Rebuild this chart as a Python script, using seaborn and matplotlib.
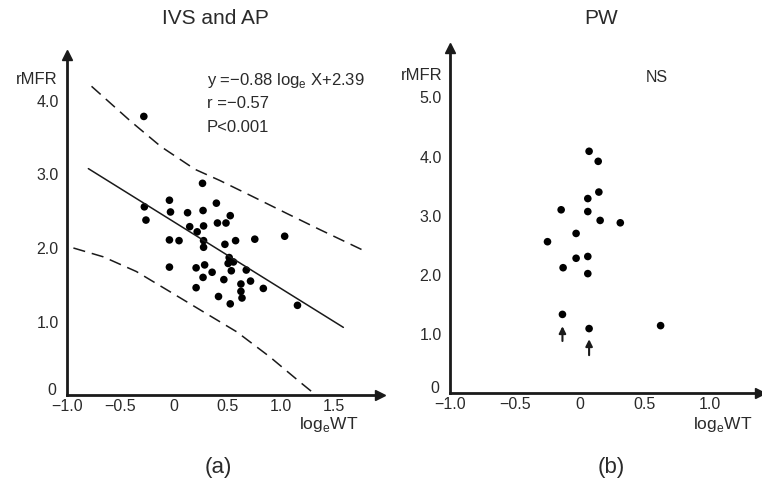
import matplotlib
matplotlib.use("Agg")
import matplotlib.pyplot as plt
import matplotlib.transforms as mtransforms
import seaborn as sns

# (a) IVS and AP: log_e WT vs rMFR
ivs_x = [-0.28, -0.275, -0.26, -0.04, -0.03, -0.04, -0.04, 0.05, 0.13, 0.15,
         0.22, 0.27, 0.275, 0.28, 0.28, 0.28, 0.29, 0.21, 0.275, 0.21,
         0.36, 0.40, 0.41, 0.49, 0.53, 0.48, 0.58, 0.52, 0.51, 0.56,
         0.54, 0.47, 0.42, 0.53, 0.63, 0.63, 0.64, 0.68, 0.72, 0.76,
         0.84, 1.04, 1.16]
ivs_y = [3.79, 2.56, 2.38, 2.65, 2.49, 2.11, 1.74, 2.10, 2.48, 2.29,
         2.22, 2.88, 2.51, 2.30, 2.10, 2.01, 1.77, 1.73, 1.60, 1.46,
         1.67, 2.61, 2.34, 2.34, 2.44, 2.05, 2.10, 1.87, 1.79, 1.81,
         1.69, 1.57, 1.34, 1.24, 1.51, 1.41, 1.32, 1.70, 1.55, 2.12,
         1.45, 2.16, 1.22]

# regression line and confidence bands
fit_x = [-0.80, 1.59]
fit_y = [3.08, 0.92]
upper_x = [-0.77, -0.40, -0.12, 0.20, 0.43, 0.74, 1.06, 1.37, 1.76]
upper_y = [4.20, 3.72, 3.38, 3.07, 2.92, 2.70, 2.47, 2.25, 1.98]
lower_x = [-0.94, -0.66, -0.35, -0.04, 0.28, 0.59, 0.90, 1.18, 1.29]
lower_y = [2.00, 1.88, 1.68, 1.41, 1.13, 0.86, 0.52, 0.18, 0.05]

# (b) PW
pw_x = [0.07, 0.14, 0.145, 0.06, -0.145, 0.06, 0.155, 0.31, -0.03,
        -0.25, 0.06, -0.03, -0.13, 0.06, -0.135, 0.07, 0.62]
pw_y = [4.09, 3.92, 3.40, 3.29, 3.10, 3.07, 2.92, 2.88, 2.70,
        2.56, 2.31, 2.28, 2.12, 2.02, 1.33, 1.09, 1.14]
arrow_x = [-0.135, 0.07]
arrow_tip = [1.13, 0.91]
arrow_base = [0.88, 0.64]

xticks_a = [-1.0, -0.5, 0, 0.5, 1.0, 1.5]
xticks_b = [-1.0, -0.5, 0, 0.5, 1.0]
yticks_a = [0, 1, 2, 3, 4]
yticks_b = [0, 1, 2, 3, 4, 5]

sns.set_style("white")
plt.rcParams["font.family"] = ["Liberation Sans", "DejaVu Sans"]
plt.rcParams["mathtext.fontset"] = "custom"
plt.rcParams["mathtext.rm"] = "Liberation Sans"

W, H = 762, 484
fig = plt.figure(figsize=(W / 100, H / 100), dpi=100)
ink = "#1a1a1a"
txt = "#2a2a2a"


def fx(px):
    return px / W


def fy(py):
    return 1 - py / H


def label(v):
    if v == 0:
        return "0"
    return f"{v:.1f}".replace("-", "\u2212")


def style_axes(ax, xt, yt):
    for s in ["top", "right"]:
        ax.spines[s].set_visible(False)
    for s in ["left", "bottom"]:
        ax.spines[s].set_linewidth(2.0)
        ax.spines[s].set_color(ink)
    ax.set_xticks(xt)
    ax.set_xticklabels([label(v) for v in xt])
    ax.set_yticks(yt)
    ax.set_yticklabels([label(v) for v in yt])
    ax.tick_params(direction="in", length=5, width=1.2, color=ink,
                   labelsize=11.5, labelcolor=txt)
    ax.tick_params(axis="x", pad=3)
    ax.tick_params(axis="y", pad=6)
    ax.set_xlabel("")
    ax.set_ylabel("")
    ax.patch.set_alpha(0)
    # the "0" on the y axis sits a little above the x axis
    zero = ax.get_yticklabels()[0]
    zero.set_transform(zero.get_transform() +
                       mtransforms.ScaledTranslation(-2 / 72, 4 / 72, fig.dpi_scale_trans))
    # arrow heads
    ax.plot(1, 0, ">", color=ink, markersize=7, transform=ax.transAxes, clip_on=False)
    ax.plot(0, 1, "^", color=ink, markersize=7, transform=ax.transAxes, clip_on=False)


# panel (a)
ax1 = fig.add_axes([fx(67), fy(395), fx(380 - 67), (395 - 55) / H])
sns.lineplot(x=fit_x, y=fit_y, ax=ax1, color=ink, linewidth=1.1)
sns.lineplot(x=upper_x, y=upper_y, ax=ax1, color=ink, linewidth=1.1,
             sort=False, estimator=None, linestyle=(0, (8, 4.5)))
sns.lineplot(x=lower_x, y=lower_y, ax=ax1, color=ink, linewidth=1.1,
             sort=False, estimator=None, linestyle=(0, (8, 4.5)))
sns.scatterplot(x=ivs_x, y=ivs_y, ax=ax1, color="black", s=30, edgecolor="none")
ax1.set_xlim(-1.0, -1.0 + (380 - 67) / 106.7)
ax1.set_ylim(0, (395 - 55) / 73.5)
style_axes(ax1, xticks_a, yticks_a)

# panel (b)
ax2 = fig.add_axes([fx(450), fy(393), fx(760 - 450), (393 - 48) / H])
sns.scatterplot(x=pw_x, y=pw_y, ax=ax2, color="black", s=30, edgecolor="none")
for xa, tip, base in zip(arrow_x, arrow_tip, arrow_base):
    ax2.annotate("", xy=(xa, tip), xytext=(xa, base),
                 arrowprops=dict(arrowstyle="-|>", color=ink, lw=1.5,
                                 mutation_scale=10, shrinkA=0, shrinkB=0))
ax2.set_xlim(-1.0, -1.0 + (760 - 450) / 130.0)
ax2.set_ylim(0, (393 - 48) / 59.1)
style_axes(ax2, xticks_b, yticks_b)

# titles and labels
fig.text(fx(215), fy(18), "IVS and AP", ha="center", va="center", fontsize=15, color=txt)
fig.text(fx(601), fy(18), "PW", ha="center", va="center", fontsize=15, color=txt)
fig.text(fx(218), fy(467), "(a)", ha="center", va="center", fontsize=16, color=txt)
fig.text(fx(611), fy(467), "(b)", ha="center", va="center", fontsize=16, color=txt)
fig.text(fx(57), fy(80), "rMFR", ha="right", va="center", fontsize=12, color=txt)
fig.text(fx(442), fy(76), "rMFR", ha="right", va="center", fontsize=12, color=txt)
fig.text(fx(358), fy(425), r"log$_\mathregular{e}$WT", ha="right", va="center", fontsize=12.5, color=txt)
fig.text(fx(752), fy(425), r"log$_\mathregular{e}$WT", ha="right", va="center", fontsize=12.5, color=txt)
fig.text(fx(657), fy(78), "NS", ha="center", va="center", fontsize=11.5, color=txt)

fig.text(fx(207), fy(80), "y =\u22120.88 log$_\\mathregular{e}$ X+2.39", ha="left", va="center",
         fontsize=12, color=txt)
fig.text(fx(207), fy(104), "r =\u22120.57", ha="left", va="center", fontsize=12, color=txt)
fig.text(fx(207), fy(127), "P<0.001", ha="left", va="center", fontsize=12, color=txt)

fig.savefig("out.png", dpi=100)
